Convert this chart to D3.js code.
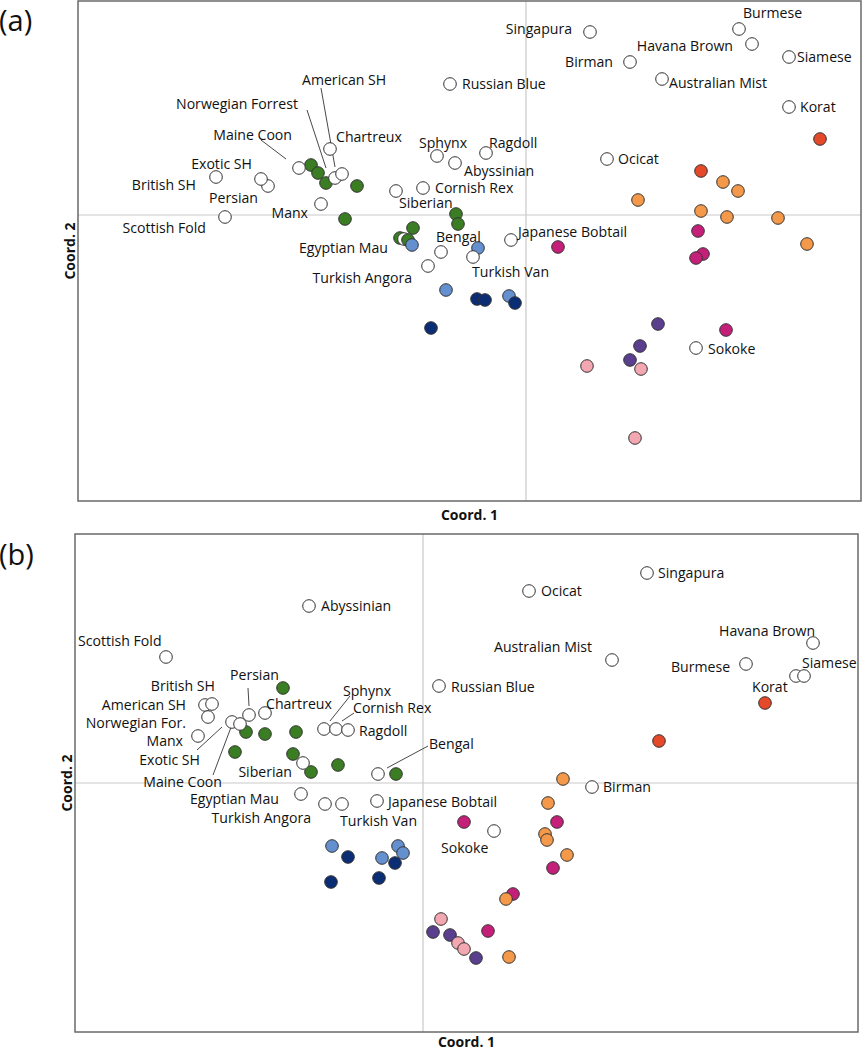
<!DOCTYPE html>
<html>
<head>
<meta charset="utf-8">
<script src="https://cdn.jsdelivr.net/npm/d3@7"></script>
<style>
  html, body { margin: 0; padding: 0; background: #fff; }
  svg { display: block; }
  .lbl { font-family: "Open Sans", "Noto Sans", sans-serif; font-size: 14.1px; fill: #111; }
  .ttl { font-family: "Open Sans", "Noto Sans", sans-serif; font-size: 14px; font-weight: bold; fill: #111; }
  .tag { font-family: "Open Sans", "Noto Sans", sans-serif; font-size: 29px; fill: #111; }
</style>
</head>
<body>
<svg id="chart" width="862" height="1050"></svg>
<script>
// ---------- Data: panel (a) ----------
// group codes: W = breed (labelled), G green, LB light blue, NV navy, MG magenta, OR orange, RD red, PU purple, PK pink
const groupColors = { W: "#ffffff", G: "#3b7d23", LB: "#6590cf", NV: "#0b2d73", MG: "#c4207a", OR: "#f4994a", RD: "#e4492a", PU: "#5b3f8f", PK: "#f2a7b1" };

const aGroupPts = [
  ["G",-2.15,0.50],["G",-2.08,0.42],["G",-2.00,0.32],["G",-1.69,0.29],["G",-1.81,-0.04],
  ["G",-1.13,-0.13],["G",-1.26,-0.23],["G",-0.70,0.01],["G",-0.68,-0.09],
  ["LB",-0.48,-0.33],["LB",-0.80,-0.75],["LB",-0.17,-0.81],
  ["NV",-0.49,-0.84],["NV",-0.41,-0.85],["NV",-0.11,-0.88],["NV",-0.95,-1.13],
  ["MG",0.32,-0.32],["MG",1.72,-0.16],["MG",1.77,-0.39],["MG",1.70,-0.43],["MG",2.00,-1.15],
  ["OR",1.97,0.33],["OR",2.12,0.24],["OR",1.12,0.15],["OR",1.75,0.04],["OR",2.01,-0.02],["OR",2.52,-0.03],["OR",2.81,-0.29],
  ["RD",2.94,0.76],["RD",1.75,0.44],
  ["PU",1.32,-1.09],["PU",1.14,-1.31],["PU",1.04,-1.45],
  ["PK",1.15,-1.54],["PK",0.61,-1.51],["PK",1.09,-2.23]
];
const aTopPts = [["G",-1.18,-0.25],["LB",-1.14,-0.30]];

const aBreeds = [
  ["Singapura",0.64,1.83],["Burmese",2.13,1.86],["Havana Brown",2.26,1.71],["Siamese",2.63,1.58],
  ["Birman",1.04,1.53],["Australian Mist",1.36,1.36],["Russian Blue",-0.76,1.31],["Korat",2.63,1.08],
  ["Ocicat",0.81,0.56],["Sphynx",-0.89,0.59],["Ragdoll",-0.40,0.62],["Abyssinian",-0.71,0.52],
  ["Cornish Rex",-1.03,0.27],["Siberian",-1.30,0.24],["Japanese Bobtail",-0.15,-0.25],["Bengal",-0.85,-0.37],
  ["Turkish Angora",-0.98,-0.51],["Turkish Van",-0.53,-0.42],["Sokoke",1.70,-1.33],["Egyptian Mau",-1.22,-0.24],
  ["Manx",-2.05,0.11],["Scottish Fold",-3.01,-0.02],["Persian",-2.58,0.29],["Exotic SH",-2.65,0.36],
  ["British SH",-3.10,0.38],["Maine Coon",-2.27,0.47],["Norwegian Forrest",-1.91,0.37],["American SH",-1.84,0.41],
  ["Chartreux",-1.96,0.66]
];
const aLabels = [
  ["Singapura",0.46,1.86,"end"],["Burmese",2.17,2.02,"start"],["Havana Brown",2.07,1.69,"end"],["Siamese",2.71,1.58,"start"],
  ["Birman",0.87,1.53,"end"],["Australian Mist",1.43,1.32,"start"],["Russian Blue",-0.64,1.31,"start"],["Korat",2.74,1.08,"start"],
  ["Ocicat",0.92,0.56,"start"],["Sphynx",-1.07,0.72,"start"],["Ragdoll",-0.37,0.72,"start"],["Abyssinian",-0.62,0.44,"start"],
  ["Cornish Rex",-0.91,0.27,"start"],["Siberian",-1.27,0.12,"start"],["Japanese Bobtail",-0.08,-0.17,"start"],["Bengal",-0.90,-0.22,"start"],
  ["Turkish Angora",-1.14,-0.63,"end"],["Turkish Van",-0.54,-0.57,"start"],["Sokoke",1.82,-1.34,"start"],["Egyptian Mau",-1.38,-0.33,"end"],
  ["Manx",-2.18,0.02,"end"],["Scottish Fold",-3.20,-0.13,"end"],["Persian",-2.68,0.17,"end"],["Exotic SH",-2.74,0.51,"end"],
  ["British SH",-3.30,0.30,"end"],["Maine Coon",-2.34,0.80,"end"],["Norwegian Forrest",-2.28,1.11,"end"],["American SH",-2.24,1.35,"start"],
  ["Chartreux",-1.90,0.78,"start"]
];
const aLeaders = [[-2.65,0.75,-2.40,0.56],[-2.19,1.05,-2.00,0.47],[-2.05,1.27,-1.91,0.48]];
const aXDomain = [-4.48, 3.35];
const aYDomain = [-2.86, 2.14];

// ---------- Data: panel (b) ----------
const bGroupPts = [
  ["G",-1.40,0.95],["G",-1.77,0.51],["G",-1.58,0.49],["G",-1.27,0.51],["G",-1.88,0.31],["G",-1.30,0.29],["G",-1.12,0.11],["G",-0.85,0.18],["G",-0.27,0.09],
  ["LB",-0.91,-0.63],["LB",-0.41,-0.75],["LB",-0.25,-0.63],["LB",-0.20,-0.70],
  ["NV",-0.75,-0.74],["NV",-0.28,-0.80],["NV",-0.92,-0.99],["NV",-0.44,-0.95],
  ["MG",0.41,-0.39],["MG",1.34,-0.39],["MG",1.30,-0.85],["MG",0.90,-1.11],["MG",0.65,-1.48],
  ["OR",1.40,0.04],["OR",1.25,-0.20],["OR",1.22,-0.51],["OR",1.24,-0.57],["OR",1.44,-0.72],["OR",0.83,-1.16],["OR",0.86,-1.74],
  ["RD",3.42,0.80],["RD",2.36,0.42],
  ["PU",0.10,-1.49],["PU",0.27,-1.52],["PU",0.53,-1.75],
  ["PK",0.18,-1.36],["PK",0.35,-1.60],["PK",0.41,-1.66]
];
const bTopPts = [];
const bBreeds = [
  ["Abyssinian",-1.14,1.77],["Scottish Fold",-2.57,1.26],["American SH",-2.18,0.78],["British SH",-2.11,0.79],
  ["Norwegian For.",-2.15,0.66],["Manx",-2.25,0.47],["Exotic SH",-1.91,0.61],["Maine Coon",-1.83,0.59],
  ["Persian",-1.74,0.68],["Chartreux",-1.58,0.70],["Siberian",-1.20,0.20],["Sphynx",-0.99,0.54],
  ["Cornish Rex",-0.87,0.54],["Ragdoll",-0.75,0.53],["Bengal",-0.45,0.09],["Russian Blue",0.16,0.97],
  ["Egyptian Mau",-1.22,-0.11],["Turkish Angora",-0.98,-0.21],["Turkish Van",-0.81,-0.21],["Japanese Bobtail",-0.46,-0.18],
  ["Sokoke",0.71,-0.48],["Birman",1.69,-0.04],["Singapura",2.24,2.10],["Ocicat",1.06,1.92],
  ["Havana Brown",3.90,1.40],["Australian Mist",1.89,1.23],["Burmese",3.23,1.19],["Korat",3.73,1.07],["Siamese",3.81,1.07]
];
const bLabels = [
  ["Abyssinian",-1.02,1.77,"start"],["Scottish Fold",-3.45,1.42,"start"],["British SH",-2.08,0.97,"end"],["American SH",-2.37,0.785,"end"],
  ["Norwegian For.",-2.37,0.60,"end"],["Manx",-2.40,0.42,"end"],["Exotic SH",-2.23,0.23,"end"],["Maine Coon",-2.01,0.01,"end"],
  ["Persian",-1.93,1.08,"start"],["Chartreux",-1.57,0.79,"start"],["Siberian",-1.31,0.11,"end"],["Sphynx",-0.80,0.92,"start"],
  ["Cornish Rex",-0.70,0.75,"start"],["Ragdoll",-0.64,0.52,"start"],["Bengal",0.06,0.39,"start"],["Russian Blue",0.28,0.96,"start"],
  ["Egyptian Mau",-1.44,-0.16,"end"],["Turkish Angora",-1.12,-0.35,"end"],["Turkish Van",-0.83,-0.38,"start"],["Japanese Bobtail",-0.35,-0.19,"start"],
  ["Sokoke",0.18,-0.65,"start"],["Birman",1.80,-0.04,"start"],["Singapura",2.35,2.10,"start"],["Ocicat",1.18,1.92,"start"],
  ["Havana Brown",2.96,1.52,"start"],["Australian Mist",0.71,1.36,"start"],["Burmese",2.48,1.16,"start"],["Siamese",3.79,1.20,"start"],
  ["Korat",3.29,0.96,"start"]
];
const bLeaders = [[-1.75,0.95,-1.74,0.77],[-2.26,0.33,-2.01,0.56],[-2.10,0.08,-1.90,0.61],[-0.73,0.87,-0.93,0.62],[-0.69,0.70,-0.81,0.62],[-0.36,0.15,0.05,0.37]];
const bXDomain = [-3.48, 4.35];
const bYDomain = [-2.49, 2.49];

// ---------- Drawing ----------
const svg = d3.select("#chart");
const R = 6.3;

function drawPanel(cfg) {
  const g = svg.append("g");
  const x = d3.scaleLinear().domain(cfg.xDomain).range([cfg.left, cfg.right]);
  const y = d3.scaleLinear().domain(cfg.yDomain).range([cfg.bottom, cfg.top]);

  g.append("line").attr("x1", x(0)).attr("x2", x(0)).attr("y1", cfg.top).attr("y2", cfg.bottom)
    .attr("stroke", "#c9c9c9").attr("stroke-width", 1.2);
  g.append("line").attr("x1", cfg.left).attr("x2", cfg.right).attr("y1", y(0)).attr("y2", y(0))
    .attr("stroke", "#c9c9c9").attr("stroke-width", 1.2);

  g.append("rect").attr("x", cfg.left).attr("y", cfg.top)
    .attr("width", cfg.right - cfg.left).attr("height", cfg.bottom - cfg.top)
    .attr("fill", "none").attr("stroke", "#6a6a6a").attr("stroke-width", 1.5);

  g.selectAll(".leader").data(cfg.leaders).join("line")
    .attr("x1", d => x(d[0])).attr("y1", d => y(d[1]))
    .attr("x2", d => x(d[2])).attr("y2", d => y(d[3]))
    .attr("stroke", "#333").attr("stroke-width", 0.9);

  const circ = (sel) => sel.attr("r", R).attr("stroke", "#333").attr("stroke-width", 1);

  g.selectAll(".gp").data(cfg.groupPts).join("circle")
    .attr("cx", d => x(d[1])).attr("cy", d => y(d[2]))
    .attr("fill", d => groupColors[d[0]]).call(circ);

  g.selectAll(".br").data(cfg.breeds).join("circle")
    .attr("cx", d => x(d[1])).attr("cy", d => y(d[2]))
    .attr("fill", groupColors.W).call(circ);

  g.selectAll(".tp").data(cfg.topPts).join("circle")
    .attr("cx", d => x(d[1])).attr("cy", d => y(d[2]))
    .attr("fill", d => groupColors[d[0]]).call(circ);

  g.selectAll(".lbl").data(cfg.labels).join("text").attr("class", "lbl")
    .attr("x", d => x(d[1])).attr("y", d => y(d[2])).attr("dy", "0.36em")
    .attr("text-anchor", d => d[3]).text(d => d[0]);

  g.append("text").attr("class", "ttl").attr("text-anchor", "middle")
    .attr("x", (cfg.left + cfg.right) / 2).attr("y", cfg.bottom + cfg.xTitleGap).text("Coord. 1");
  g.append("text").attr("class", "ttl").attr("text-anchor", "middle")
    .attr("transform", `translate(${cfg.left - 3},${(cfg.top + cfg.bottom) / 2}) rotate(-90)`)
    .text("Coord. 2");

  g.append("text").attr("class", "tag").attr("x", cfg.tagX).attr("y", cfg.tagY).text(cfg.tag);
}

drawPanel({ tag: "(a)", tagX: -1, tagY: 31, left: 78, right: 861, top: 1, bottom: 501, xTitleGap: 19,
  xDomain: aXDomain, yDomain: aYDomain, groupPts: aGroupPts, topPts: aTopPts, breeds: aBreeds, labels: aLabels, leaders: aLeaders });
drawPanel({ tag: "(b)", tagX: -1, tagY: 565, left: 75, right: 858, top: 534, bottom: 1032, xTitleGap: 15,
  xDomain: bXDomain, yDomain: bYDomain, groupPts: bGroupPts, topPts: bTopPts, breeds: bBreeds, labels: bLabels, leaders: bLeaders });
</script>
</body>
</html>
